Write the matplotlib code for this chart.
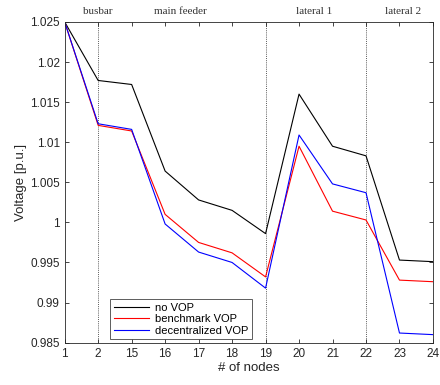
import numpy as np
import matplotlib.pyplot as plt

# node labels along the x axis
nodes = ["1", "2", "15", "16", "17", "18", "19", "20", "21", "22", "23", "24"]

# voltage profiles [p.u.]
no_vop = [1.025, 1.0177, 1.0172, 1.0064, 1.0028, 1.0015, 0.9986, 1.0160, 1.0095, 1.0083, 0.9953, 0.9951]
benchmark_vop = [1.025, 1.0121, 1.0114, 1.0010, 0.9975, 0.9962, 0.9932, 1.0095, 1.0014, 1.0003, 0.9928, 0.9926]
decentralized_vop = [1.025, 1.0123, 1.0116, 0.9998, 0.9963, 0.9950, 0.9918, 1.0109, 1.0048, 1.0037, 0.9862, 0.9860]

# section separators (index of node) and section titles
separators = [1, 6, 9]
sections = ["busbar", "main feeder", "lateral 1", "lateral 2"]
section_pos = [1.0, 3.45, 7.45, 10.1]

plt.rcParams['font.family'] = ['Liberation Sans', 'DejaVu Sans']

fig = plt.figure(figsize=(4.4, 3.85), dpi=100)
ax = fig.add_axes([0.147, 0.11, 0.837, 0.833])

x = np.arange(len(nodes))
ax.plot(x, no_vop, color="black", lw=0.8, label="no VOP")
ax.plot(x, benchmark_vop, color="red", lw=0.8, label="benchmark VOP")
ax.plot(x, decentralized_vop, color="blue", lw=0.8, label="decentralized VOP")

for s in separators:
    ax.axvline(s, color="0.35", lw=0.7, ls=(0, (1, 1.2)), zorder=0)

for name, p in zip(sections, section_pos):
    ax.text(p, 1.0257, name, ha="center", va="bottom", fontsize=8,
            family="Liberation Serif", color="0.2")

ax.set_xlim(0, len(nodes) - 1)
ax.set_ylim(0.985, 1.025)
ax.set_xticks(x)
ax.set_xticklabels(nodes)
ax.set_yticks(np.arange(0.985, 1.0251, 0.005))
ax.set_yticklabels(["0.985", "0.99", "0.995", "1", "1.005", "1.01", "1.015", "1.02", "1.025"])
ax.tick_params(direction="in", top=True, right=True, labelsize=8.5, length=3,
               width=0.6, colors="0.15")
for sp in ax.spines.values():
    sp.set_linewidth(0.6)
    sp.set_color("0.15")

ax.set_xlabel("# of nodes", fontsize=9.5, labelpad=2, color="0.15")
ax.set_ylabel("Voltage [p.u.]", fontsize=9.5, labelpad=2, color="0.15")

leg = ax.legend(loc="lower left", bbox_to_anchor=(0.115, 0.0), fontsize=8,
                frameon=True, fancybox=False, borderpad=0.3, labelspacing=0.15,
                handlelength=3.2, handletextpad=0.5, borderaxespad=0.3)
leg.get_frame().set_edgecolor("0.2")
leg.get_frame().set_linewidth(0.7)

fig.savefig("out.png", dpi=100)
